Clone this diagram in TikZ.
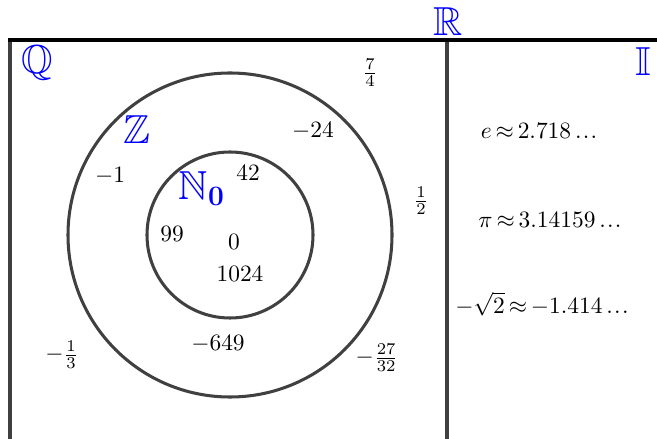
\documentclass[tikz,border=0pt]{standalone}
\usepackage{amsmath,amssymb}
\usetikzlibrary{calc}
\newcommand{\tightapprox}{\mathrel{\mkern-2mu\approx\mkern-2mu}}
\newcommand{\tightdots}{\mathinner{\ldotp\mkern-2mu\ldotp\mkern-2mu\ldotp}}
\tikzset{
    rim/.style={draw=black!75, line width=1.3pt},
    topline/.style={draw=black, line width=2pt},
    setname/.style={text=blue, font=\LARGE, inner sep=0pt},
    member/.style={font=\normalsize, inner sep=1pt},
    common settings/.style={
        x={(0.015cm,0cm)},
        y={(0cm,-0.015cm)}
    }
}
\begin{document}
\begin{tikzpicture}[common settings]

    % Configuration
    \def\cx{230}      % centre of the circles
    \def\cy{235}
    \useasboundingbox (0,0) rectangle (657,439);

    % 1. Frame of the reals
    \coordinate (tl) at (8,40);
    \coordinate (tr) at (657,40);
    \coordinate (bl) at (10,439);
    \coordinate (ql) at (10,40);
    \coordinate (mt) at (447,40);
    \coordinate (mb) at (447,439);
    \draw[rim] (ql) -- (bl);
    \draw[rim] (mt) -- (mb);
    \draw[topline] (tl) -- (tr);

    % 2. Circles for Z and N0
    \draw[rim] (\cx,\cy) circle[radius=162];
    \draw[rim] (\cx,\cy) circle[radius=83];

    % 3. Set names
    \node[setname] (R) at (448,22) {$\mathbb{R}$};
    \node[setname] (Q) at (37,63) {$\mathbb{Q}$};
    \node[setname] (I) at (643,62) {$\mathbb{I}$};
    \node[setname] (Z) at (137,130) {$\mathbb{Z}$};
    \node[setname] (N) at (202,189) {$\mathbb{N}_{\mathbf{0}}$};

    % 4. Members
    \node[member] (m42)   at (248,173) {$42$};
    \node[member] (m99)   at (172,234) {$99$};
    \node[member] (m0)    at (234,242) {$0$};
    \node[member] (m1024) at (240,274) {$1024$};
    \node[member] (mm1)   at (110,176) {$-1$};
    \node[member] (mm24)  at (313,131) {$-24$};
    \node[member] (mm649) at (218,344) {$-649$};
    \node[member] (q74)   at (370,73)  {$\frac{7}{4}$};
    \node[member] (q12)   at (421,201) {$\frac{1}{2}$};
    \node[member] (qm13)  at (62,355)  {$-\frac{1}{3}$};
    \node[member] (qm2732) at (377,358) {$-\frac{27}{32}$};
    \node[member] (ie)  at (539,131) {$e \tightapprox 2.718\tightdots$};
    \node[member] (ipi) at (550,220) {$\pi \tightapprox 3.14159\tightdots$};
    \node[member] (isq) at (542,304) {$-\sqrt{2} \tightapprox -1.414\tightdots$};

\end{tikzpicture}
\end{document}
